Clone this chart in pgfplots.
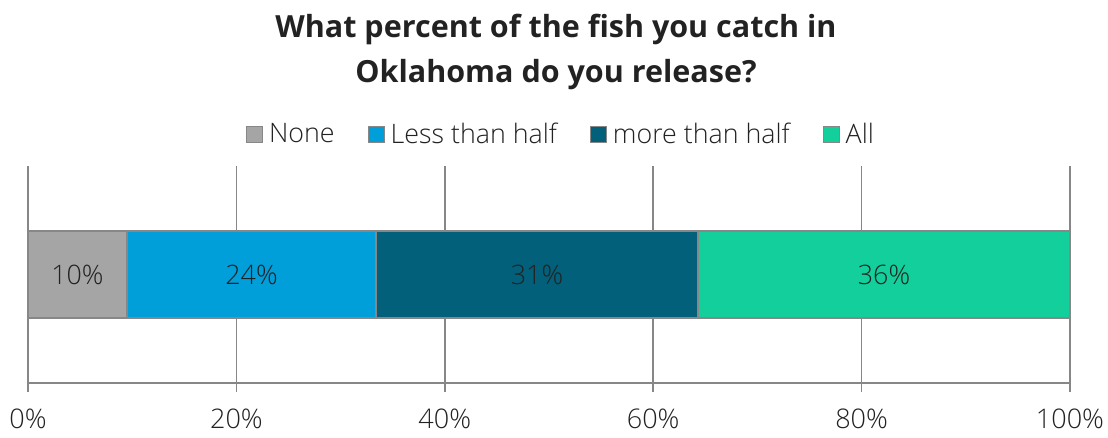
\documentclass[border=0pt]{standalone}
\usepackage{fontspec}
\setmainfont{Open Sans}
\newfontfamily\lightfont{Open Sans Light}
\usepackage{pgfplots}
\pgfplotsset{compat=1.18}
\definecolor{cNone}{HTML}{A5A5A5}
\definecolor{cLess}{HTML}{009FDA}
\definecolor{cMore}{HTML}{02607A}
\definecolor{cAll}{HTML}{12CF9C}
\definecolor{cGrid}{HTML}{878787}
\definecolor{cText}{HTML}{222222}
\begin{document}
\begin{tikzpicture}
\useasboundingbox (0,0) rectangle (1108pt,437pt);
\begin{axis}[
  at={(28pt,54pt)}, anchor=south west,
  scale only axis, width=1042pt, height=217pt,
  xbar stacked, bar width=87pt,
  xmin=0, xmax=100, ymin=0, ymax=2,
  axis x line*=bottom, axis y line=none,
  ytick=\empty,
  xtick={0,20,...,100},
  xmajorgrids, grid style={cGrid, line width=1.6pt},
  axis line style={cGrid, line width=1.6pt, -},
  tick style={cGrid, line width=1.6pt},
  tick align=outside, major tick length=9pt,
  xticklabel={\pgfmathprintnumber{\tick}\%},
  /pgf/number format/assume math mode=true,
  xticklabel style={font=\lightfont\fontsize{27}{30}\selectfont, text=cText, yshift=-13pt},
  title={What percent of the fish you catch in\\Oklahoma do you release?},
  title style={at={(0.5,1.50)}, xshift=7pt, anchor=center, align=center, font=\fontsize{30.5}{45}\selectfont\bfseries, text=cText},
  legend columns=4,
  legend style={draw=none, at={(0.5115,1.147)}, anchor=center, font=\lightfont\fontsize{26.8}{30}\selectfont, text=cText,
    /tikz/every odd column/.append style={column sep=4pt},
    /tikz/every even column/.append style={column sep=31pt}},
  point meta=explicit symbolic,
  nodes near coords,
  every node near coord/.append style={anchor=center, font=\lightfont\fontsize{26.8}{30}\selectfont, text=cText},
]
\addplot[fill=cNone, draw=cGrid, line width=1.6pt,
  legend image code/.code={\draw[fill=cNone,draw=cGrid,line width=1pt] (0pt,-8pt) rectangle (16pt,8pt);}]
  coordinates {(9.5,1) [10\%]};
\addplot[fill=cLess, draw=cGrid, line width=1.6pt,
  legend image code/.code={\draw[fill=cLess,draw=cGrid,line width=1pt] (0pt,-8pt) rectangle (16pt,8pt);}]
  coordinates {(23.9,1) [24\%]};
\addplot[fill=cMore, draw=cGrid, line width=1.6pt,
  legend image code/.code={\draw[fill=cMore,draw=cGrid,line width=1pt] (0pt,-8pt) rectangle (16pt,8pt);}]
  coordinates {(30.9,1) [31\%]};
\addplot[fill=cAll, draw=cGrid, line width=1.6pt,
  legend image code/.code={\draw[fill=cAll,draw=cGrid,line width=1pt] (0pt,-8pt) rectangle (16pt,8pt);}]
  coordinates {(35.7,1) [36\%]};
\legend{None, Less than half, more than half, All}
\end{axis}
\end{tikzpicture}
\end{document}
